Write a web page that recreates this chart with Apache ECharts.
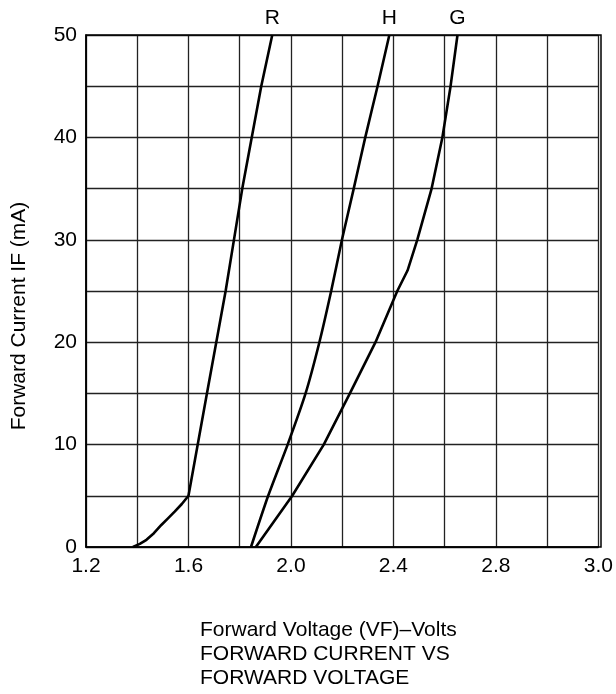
<!DOCTYPE html>
<html>
<head>
<meta charset="utf-8">
<script src="https://cdn.jsdelivr.net/npm/echarts@6/dist/echarts.min.js"></script>
<style>
html,body{margin:0;padding:0;background:#fff;}
#c{width:616px;height:694px;}
</style>
</head>
<body>
<div id="c"></div>
<script>
// Tick labels as printed on the original (10 columns, last printed as 3.0)
var xTickLabels = ['1.2','','1.6','','2.0','','2.4','','2.8','','3.0'];
var yTickLabels = ['0','','10','','20','','30','','40','','50'];

// Curve names
var seriesNames = ['R','H','G'];

// Forward voltage (V) / forward current (mA) readings
var rVolts   = [1.383, 1.410, 1.436, 1.465, 1.494, 1.520, 1.546, 1.574, 1.600, 1.672, 1.745, 1.810, 1.884, 1.927];
var rCurrent = [0,     0.3,   0.7,   1.35,  2.15,  2.8,   3.45,  4.2,   5,     15,    25,    35,    45,    50];

var hVolts   = [1.844, 1.911, 1.987, 2.057, 2.111, 2.157, 2.199, 2.245, 2.290, 2.338, 2.384];
var hCurrent = [0,     5,     10,    15,    20,    25,    30,    35,    40,    45,    50];

var gVolts   = [1.863, 2.005, 2.128, 2.230, 2.330, 2.415, 2.455, 2.493, 2.549, 2.591, 2.623, 2.650];
var gCurrent = [0,     5,     10,    15,    20,    25,    27,    30,    35,    40,    45,    50];

function pairs(xs, ys){ return xs.map(function(x,i){ return [x, ys[i]]; }); }

var FONT = 'Liberation Sans, Arial, Helvetica, sans-serif';
var FS = 21;

function mkSeries(name, xs, ys, smooth){
  var d = pairs(xs, ys);
  var last = d[d.length - 1];
  return {
    name: name,
    type: 'line',
    data: d,
    smooth: smooth,
    symbol: 'none',
    lineStyle: {color:'#000', width:2.6},
    emphasis: {disabled: true},
    markPoint: {
      symbol: 'circle',
      symbolSize: 1,
      itemStyle: {color: 'rgba(0,0,0,0)'},
      label: {
        show: true,
        position: 'top',
        distance: 6,
        color: '#000',
        fontSize: FS,
        fontFamily: FONT,
        formatter: name
      },
      data: [{coord: last}]
    },
    z: 5
  };
}

var chart = echarts.init(document.getElementById('c'), null, {renderer:'canvas'});
chart.setOption({
  animation: false,
  backgroundColor: '#fff',
  grid: {left: 86, right: 15, top: 35, bottom: 147, containLabel: false},
  xAxis: {
    type: 'value', min: 1.2, max: 3.2, interval: 0.2,
    axisLine: {show: true, lineStyle: {color:'#000', width:1.5}},
    axisTick: {show: false},
    splitLine: {show: true, lineStyle: {color:'#222', width:1.3}},
    axisLabel: {
      color:'#000', fontSize:FS, fontFamily: FONT, margin: 9,
      formatter: function(v){ var i = Math.round((v - 1.2) / 0.2); return xTickLabels[i] || ''; }
    }
  },
  yAxis: {
    type: 'value', min: 0, max: 50, interval: 5,
    axisLine: {show: true, lineStyle: {color:'#000', width:1.5}},
    axisTick: {show: false},
    splitLine: {show: true, lineStyle: {color:'#222', width:1.3}},
    axisLabel: {
      color:'#000', fontSize:FS, fontFamily: FONT, margin: 9,
      formatter: function(v){ var i = Math.round(v / 5); return yTickLabels[i] || ''; }
    }
  },
  graphic: [
    {type:'rect', shape:{x:86, y:35, width:515, height:512}, style:{fill:'none', stroke:'#000', lineWidth:1.5}, z:10, silent:true},
    {type:'text', x:19, y:316, rotation: Math.PI/2, style:{text:'Forward Current IF (mA)', fill:'#000', font:FS + 'px ' + FONT, textAlign:'center', textVerticalAlign:'middle'}},
    {type:'text', left:200, top:620, style:{text:'Forward Voltage (VF)\u2013Volts', fill:'#000', font:FS + 'px ' + FONT}},
    {type:'text', left:200, top:644, style:{text:'FORWARD CURRENT VS', fill:'#000', font:FS + 'px ' + FONT}},
    {type:'text', left:200, top:668, style:{text:'FORWARD VOLTAGE', fill:'#000', font:FS + 'px ' + FONT}}
  ],
  series: [
    mkSeries(seriesNames[0], rVolts, rCurrent, false),
    mkSeries(seriesNames[1], hVolts, hCurrent, 0.2),
    mkSeries(seriesNames[2], gVolts, gCurrent, false)
  ]
});
</script>
</body>
</html>
